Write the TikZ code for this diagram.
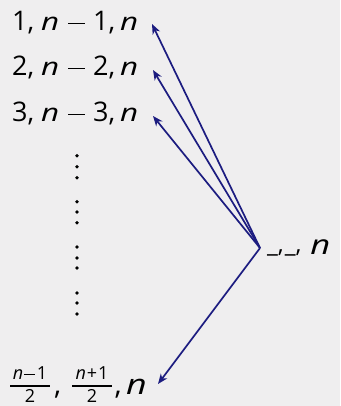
\documentclass[tikz,border=0pt]{standalone}
\usepackage{graphicx}
\usepackage{fontspec}
\setmainfont{Open Sans}
\usetikzlibrary{arrows.meta}
\definecolor{bg}{HTML}{EFEEEF}
\definecolor{navy}{HTML}{1C1C80}
\newcommand{\nit}{\textit{n}}
\newcommand{\wn}[1]{\scalebox{1.28}[1]{\fontsize{#1}{#1}\selectfont\textit{n}}}
\newcommand{\rowtext}[1]{\makebox[28pt][l]{#1,}\makebox[28pt][l]{\kern1pt\wn{24.5}}\makebox[25pt][l]{\rule[6.5pt]{17pt}{1.7pt}}\makebox[27pt][l]{#1,}\wn{24.5}}
\begin{document}
\begin{tikzpicture}[x=1pt,y=1pt,
  lbl/.style={font=\fontsize{27}{32}\selectfont, inner sep=0pt, anchor=base west},
  frc/.style={font=\fontsize{18}{22}\selectfont, inner sep=0pt, anchor=base},
  big/.style={font=\fontsize{29}{34}\selectfont, inner sep=0pt, anchor=base west},
  bar/.style={line width=1.2pt},
  arr/.style={draw=navy, line width=1.7pt, -{Stealth[length=10pt,width=8pt,inset=3pt]}},
  dot/.style={fill=black}]
\fill[bg] (0,0) rectangle (340,406);
\useasboundingbox (0,0) rectangle (340,406);
% rows
\node[lbl] (r1) at (12,375) {\rowtext{1}};
\node[lbl] (r2) at (12,330) {\rowtext{2}};
\node[lbl] (r3) at (12,284) {\rowtext{3}};
% last row (fractions)
\node[frc] (fn1) at (30,26.5) {\nit\kern1pt\rule[4.5pt]{11pt}{1.3pt}\kern1.5pt1};
\node[frc] (fd1) at (30,3.5) {2};
\draw[bar] (10,20) -- (50,20);
\node[big] (c1) at (54,11) {,};
\node[frc] (fn2) at (92,26.5) {\nit\kern1pt+\kern1pt1};
\node[frc] (fd2) at (92,3.5) {2};
\draw[bar] (72,20) -- (112,20);
\node[big] (c2) at (114.5,11) {,};
\node[big] (rl) at (126,11) {\wn{28}};
% label
\node[big] (lab) at (267,151) {\raisebox{2pt}{\fontsize{24}{28}\selectfont\_,\kern1pt\_,}\kern9pt\wn{27}};
% arrows
\coordinate (hub) at (260,158);
\coordinate (t1) at (152,382);
\coordinate (t2) at (153,336);
\coordinate (t3) at (153,290);
\coordinate (tl) at (158,22);
\draw[arr] (hub) -- (t1);
\draw[arr] (hub) -- (t2);
\draw[arr] (hub) -- (t3);
\draw[arr] (hub) -- (tl);
% vertical dots
\foreach \y in {155.7,166.7,177.7,201.7,212,222.7,247,258,268,293,303,314}
  \fill[dot] (77,406-\y) circle (1.9);
\end{tikzpicture}
\end{document}
